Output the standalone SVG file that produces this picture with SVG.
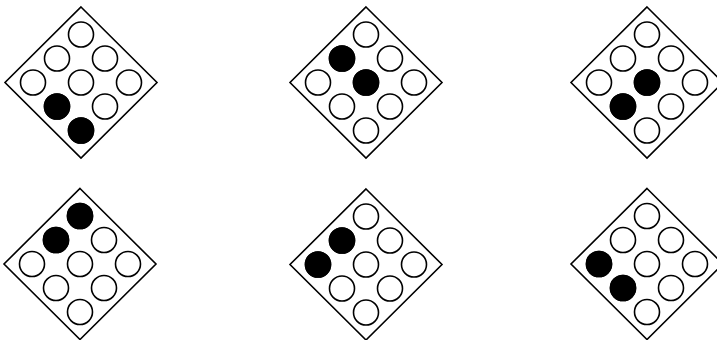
<svg xmlns="http://www.w3.org/2000/svg" xmlns:xlink="http://www.w3.org/1999/xlink" width="717" height="340" viewBox="0 0 717 340">
  <style>
    .frame { fill: #fff; stroke: #000; stroke-width: 1.6; stroke-linejoin: miter; }
    .hole { fill: #fff; stroke: #000; stroke-width: 1.6; }
    .on { fill: #000; stroke: #000; stroke-width: 1.6; }
  </style>
  <defs>
    <g id="board">
      <polygon class="frame" points="0,-75.5 76,0 0,75.5 -76,0"/>
      <circle class="hole" cx="0" cy="-48" r="12.5"/>
      <circle class="hole" cx="-24" cy="-24" r="12.5"/>
      <circle class="hole" cx="24" cy="-24" r="12.5"/>
      <circle class="hole" cx="-48" cy="0" r="12.5"/>
      <circle class="hole" cx="0" cy="0" r="12.5"/>
      <circle class="hole" cx="48" cy="0" r="12.5"/>
      <circle class="hole" cx="-24" cy="24" r="12.5"/>
      <circle class="hole" cx="24" cy="24" r="12.5"/>
      <circle class="hole" cx="0" cy="48" r="12.5"/>
    </g>
  </defs>
  <rect width="717" height="340" fill="#fff"/>
  <g id="connectors"></g>
  <g id="d1" transform="translate(81,82.5)">
    <use xlink:href="#board" href="#board"/>
    <circle class="on" cx="-24" cy="24" r="12.5"/>
    <circle class="on" cx="0" cy="48" r="12.5"/>
  </g>
  <g id="d2" transform="translate(366,82.5)">
    <use xlink:href="#board" href="#board"/>
    <circle class="on" cx="-24" cy="-24" r="12.5"/>
    <circle class="on" cx="0" cy="0" r="12.5"/>
  </g>
  <g id="d3" transform="translate(647,82.5)">
    <use xlink:href="#board" href="#board"/>
    <circle class="on" cx="0" cy="0" r="12.5"/>
    <circle class="on" cx="-24" cy="24" r="12.5"/>
  </g>
  <g id="d4" transform="translate(80,264)">
    <use xlink:href="#board" href="#board"/>
    <circle class="on" cx="0" cy="-48" r="12.5"/>
    <circle class="on" cx="-24" cy="-24" r="12.5"/>
  </g>
  <g id="d5" transform="translate(366,264.5)">
    <use xlink:href="#board" href="#board"/>
    <circle class="on" cx="-24" cy="-24" r="12.5"/>
    <circle class="on" cx="-48" cy="0" r="12.5"/>
  </g>
  <g id="d6" transform="translate(647,264)">
    <use xlink:href="#board" href="#board"/>
    <circle class="on" cx="-48" cy="0" r="12.5"/>
    <circle class="on" cx="-24" cy="24" r="12.5"/>
  </g>
</svg>
